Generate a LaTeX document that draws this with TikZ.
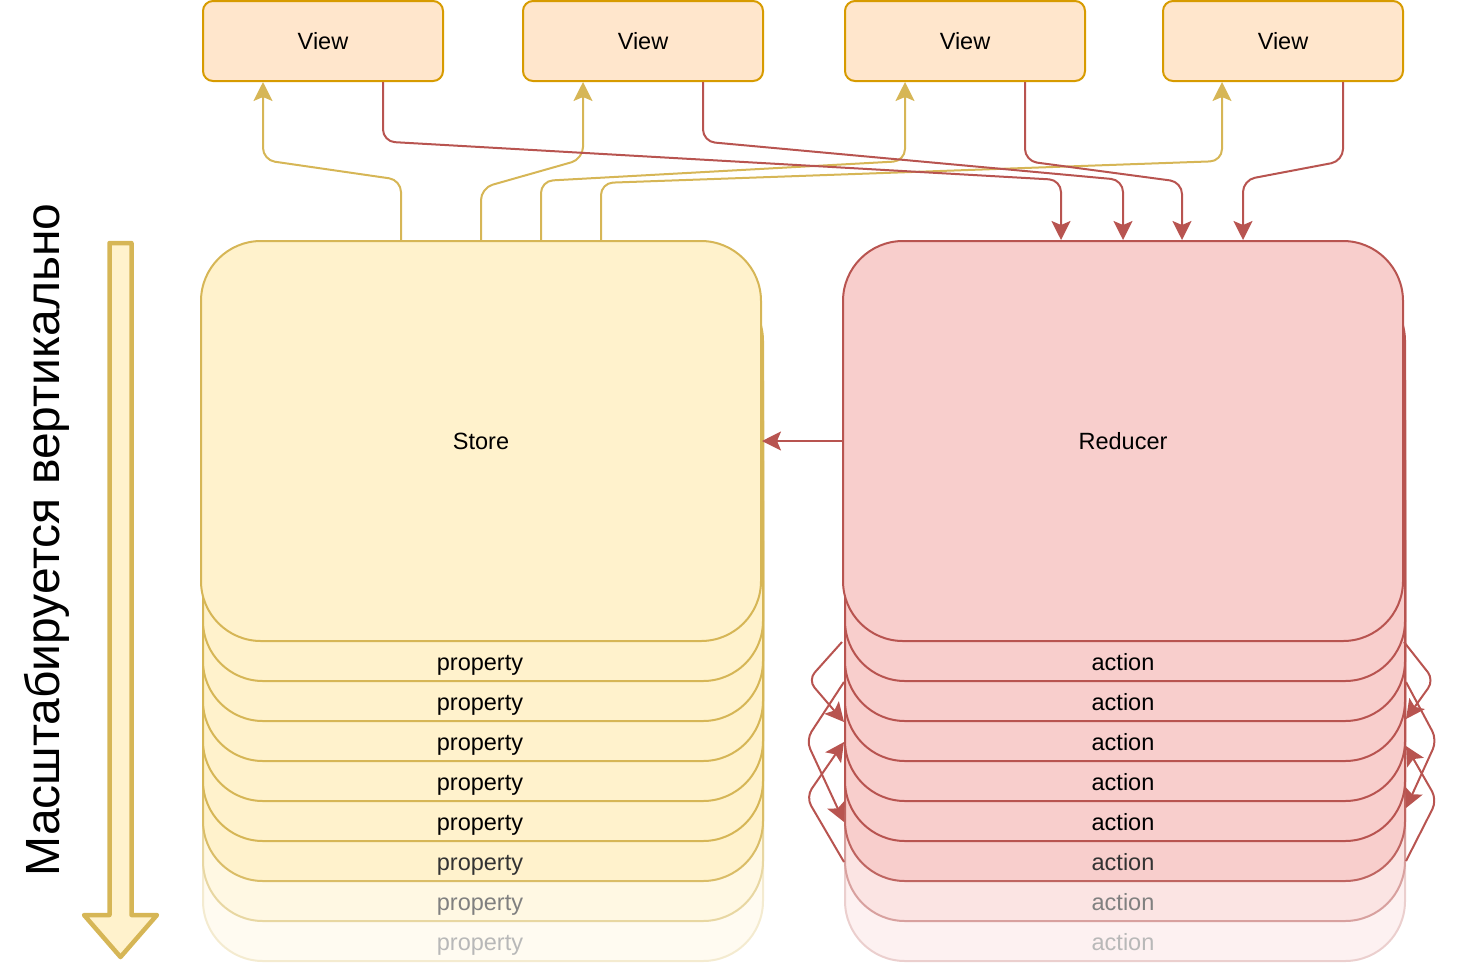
\documentclass[tikz,border=0pt]{standalone}
\usepackage{fontspec}
\setmainfont{Liberation Sans}
\usetikzlibrary{arrows.meta,calc}
\definecolor{sfill}{HTML}{FFF2CC}
\definecolor{sline}{HTML}{D6B656}
\definecolor{rfill}{HTML}{F8CECC}
\definecolor{rline}{HTML}{B85450}
\definecolor{vfill}{HTML}{FFE6CC}
\definecolor{vline}{HTML}{D79B00}
\begin{document}
\begin{tikzpicture}[x=1pt,y=-1pt,
  txt/.style={font=\fontsize{23.5}{28}\selectfont},
  viewbox/.style={draw=vline, fill=vfill, line width=2pt, rounded corners=10pt,
    minimum width=240pt, minimum height=80pt, inner sep=0pt, txt},
  bigbox/.style={line width=2pt, rounded corners=60pt, minimum width=560pt,
    minimum height=400pt, inner sep=0pt, txt},
  tipstyle/.style={-{Stealth[length=19pt,width=19pt,inset=4pt]}},
  yarr/.style={draw=sline, line width=2pt, tipstyle},
  rarr/.style={draw=rline, line width=2pt, tipstyle},
  sarr/.style={draw=rline, line width=2pt, tipstyle},
  rc/.style={rounded corners=12pt},
  rcs/.style={rounded corners=10pt},
]
\useasboundingbox (0,0) rectangle (1458,962);

% ---- Store stack ----
\foreach \k/\f/\s/\t in {8/28/28/28, 7/55/55/50, 6/100/90/80, 5/100/100/100, 4/100/100/100, 3/100/100/100, 2/100/100/100, 1/100/100/100} {
  \node[bigbox, fill=sfill!\f!white, draw=sline!\s!white] (p\k) at (483,{441+40*\k}) {};
  \node[txt, text=black!\t!white, inner sep=0pt] (pl\k) at ([xshift=-3pt,yshift=17pt]p\k.south) {property};
}
\node[bigbox, fill=sfill, draw=sline] (store) at (481,441) {Store};

% ---- Reducer stack ----
\foreach \k/\f/\s/\t in {8/28/28/28, 7/55/55/50, 6/100/90/80, 5/100/100/100, 4/100/100/100, 3/100/100/100, 2/100/100/100, 1/100/100/100} {
  \node[bigbox, fill=rfill!\f!white, draw=rline!\s!white] (a\k) at (1125,{441+40*\k}) {};
  \node[txt, text=black!\t!white, inner sep=0pt] (al\k) at ([xshift=-2pt,yshift=20pt]a\k.south) {action};
}
\node[bigbox, fill=rfill, draw=rline] (reducer) at (1123,441) {Reducer};

% ---- Views ----
\node[viewbox] (v1) at (323,41) {View};
\node[viewbox] (v2) at (643,41) {View};
\node[viewbox] (v3) at (965,41) {View};
\node[viewbox] (v4) at (1283,41) {View};

% ---- Store -> Views ----
\draw[yarr] ([xshift=-80pt]store.north) [rc] -- (401,180) -- (263,160) [sharp corners] -- ([xshift=-60pt]v1.south);
\draw[yarr] (store.north) [rc] -- (481,188) -- (583,159) [sharp corners] -- ([xshift=-60pt]v2.south);
\draw[yarr] ([xshift=60pt]store.north) [rc] -- (541,181) -- (905,161) [sharp corners] -- ([xshift=-60pt]v3.south);
\draw[yarr] ([xshift=120pt]store.north) [rc] -- (601,183) -- (1222,161) [sharp corners] -- ([xshift=-61pt]v4.south);

% ---- Views -> Reducer ----
\draw[rarr] ([xshift=60pt]v1.south) [rc] -- (383,141.5) -- (1061,180) [sharp corners] -- ([xshift=-62pt]reducer.north);
\draw[rarr] ([xshift=60pt]v2.south) [rc] -- (703,141.5) -- (1123,180) [sharp corners] -- (reducer.north);
\draw[rarr] ([xshift=60pt]v3.south) [rc] -- (1025,161) -- (1182,182) [sharp corners] -- ([xshift=59pt]reducer.north);
\draw[rarr] ([xshift=60pt]v4.south) [rc] -- (1343,161) -- (1243,180) [sharp corners] -- ([xshift=120pt]reducer.north);

% ---- Reducer -> Store ----
\draw[rarr] (reducer.west) -- (store.east);

% ---- side arrows (left) ----
\draw[sarr] (reducer.south west) [rcs] -- (808,680) [sharp corners] -- (a2.south west);
\draw[sarr] (a1.south west) [rcs] -- (806,740) [sharp corners] -- ([yshift=-20pt]a4.south west);
\draw[sarr] ([yshift=20pt]a6.south west) [rcs] -- (806,797) [sharp corners] -- ([yshift=-20pt]a2.south west);
% ---- side arrows (right) ----
\draw[sarr] (reducer.south east) [rcs] -- (1434,680) [sharp corners] -- ([yshift=3pt]a2.south east);
\draw[sarr] (a1.south east) [rcs] -- (1437,740) [sharp corners] -- ([yshift=-6pt]a4.south east);
\draw[sarr] ([yshift=21pt]a6.south east) [rcs] -- (1437,800) [sharp corners] -- ([yshift=-24pt]a2.south east);

% ---- big arrow ----
\draw[line width=4.5pt, draw=sline, fill=sfill, line join=round]
  (109.5,243) -- (131.5,243) -- (131.5,915) -- (157,915) -- (120.5,957)
  -- (84,915) -- (109.5,915) -- cycle;

% ---- vertical caption ----
\node[rotate=90, anchor=base, font=\fontsize{48}{54}\selectfont, inner sep=0pt] (cap) at (59,540) {Масштабируется вертикально};
\end{tikzpicture}
\end{document}
